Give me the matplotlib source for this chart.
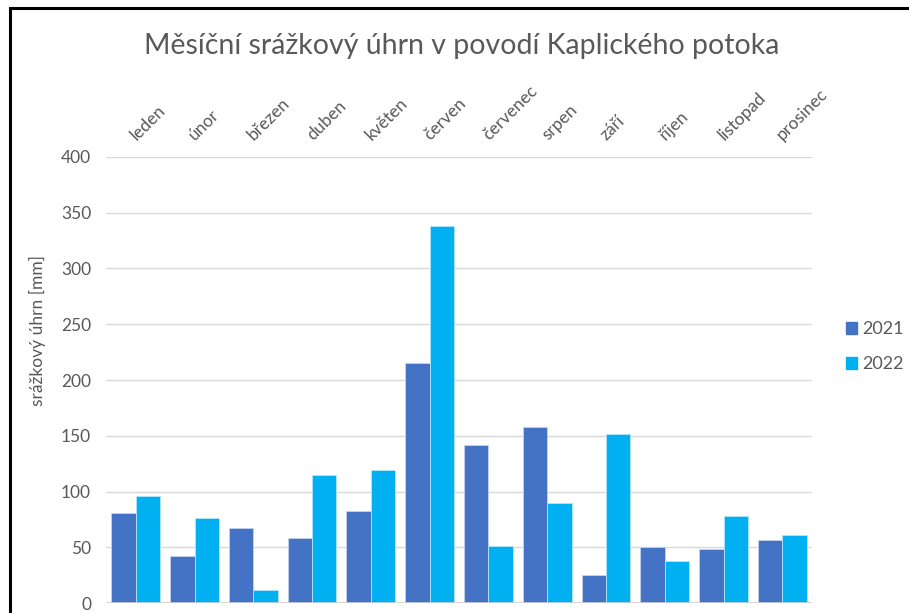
import matplotlib.pyplot as plt
import numpy as np
from matplotlib.patches import Patch, Rectangle

plt.rcParams['font.family'] = ['Lato', 'DejaVu Sans']

months = ['leden', 'únor', 'březen', 'duben', 'květen', 'červen',
          'červenec', 'srpen', 'září', 'říjen', 'listopad', 'prosinec']
rain_2021 = [81, 42, 67, 58, 83, 215, 142, 158, 25, 50, 49, 57]
rain_2022 = [96, 76, 12, 115, 119, 338, 51, 90, 152, 38, 78, 61]

c2021 = '#4472C4'
c2022 = '#00B0F0'
gray = '#595959'

fig = plt.figure(figsize=(9.09, 6.13), dpi=100)
ax = fig.add_axes([0.117, 0.016, 0.776, 0.728])

x = np.arange(len(months))
width = 0.415
ax.bar(x - width / 2, rain_2021, width, color=c2021, edgecolor='#c5d3ee', linewidth=0.6, zorder=3)
ax.bar(x + width / 2, rain_2022, width, color=c2022, edgecolor='#b3e6fa', linewidth=0.6, zorder=3)

ax.set_xlim(-0.5, len(months) - 0.5)
ax.set_ylim(0, 400)
ax.set_yticks(np.arange(0, 401, 50))
ax.tick_params(axis='y', length=0, labelsize=12.5, labelcolor=gray, pad=11)
ax.grid(axis='y', color='#d9d9d9', linewidth=1, zorder=0)
for s in ax.spines.values():
    s.set_visible(False)
ax.axhline(0, color='#d0d0d0', linewidth=1.2, zorder=4)

ax.set_xticks(x)
ax.set_xticklabels([])
ax.tick_params(axis='x', length=0)
for xi, m in zip(x, months):
    ax.annotate(m, xy=(xi, 400), xycoords='data', xytext=(-2, 14), textcoords='offset points',
                rotation=45, rotation_mode='anchor', ha='left', va='center',
                fontsize=12.5, color=gray, annotation_clip=False)

ax.set_ylabel('srážkový úhrn [mm]', fontsize=12.5, color=gray)
ax.yaxis.set_label_coords(-0.085, 0.61)

fig.text(0.508, 0.925, 'Měsíční srážkový úhrn v povodí Kaplického potoka',
         ha='center', va='center', fontsize=20.5, color=gray)

handles = [Patch(color=c2021, label='2021'), Patch(color=c2022, label='2022')]
ax.legend(handles=handles, loc='center left', bbox_to_anchor=(1.048, 0.575), frameon=False,
          fontsize=13, labelcolor=gray, handlelength=0.65, handleheight=0.65,
          handletextpad=0.25, labelspacing=1.05, borderpad=0, borderaxespad=0)

fig.patches.append(Rectangle((0.011, -0.01), 1.05, 0.997, transform=fig.transFigure,
                             fill=False, edgecolor='black', linewidth=2.2))

fig.savefig('out.png', dpi=100)
